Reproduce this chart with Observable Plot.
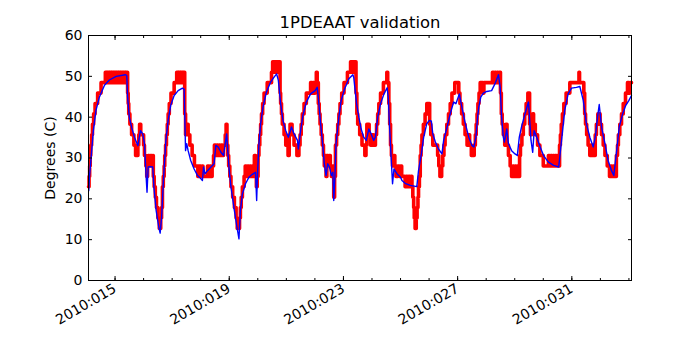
<!DOCTYPE html>
<html>
<head>
<meta charset="utf-8">
<script src="https://cdn.jsdelivr.net/npm/d3@7"></script>
<script src="https://cdn.jsdelivr.net/npm/@observablehq/plot@0.6"></script>
<style>
  html, body { margin: 0; padding: 0; background: white; }
  #chart { width: 700px; height: 350px; }
</style>
</head>
<body>
<div id="chart"></div>
<script>
const chartTitle = "1PDEAAT validation";
const yLabel = "Degrees (C)";
const xTickDays = [15, 19, 23, 27, 31];
const xTickLabels = ["2010:015", "2010:019", "2010:023", "2010:027", "2010:031"];
const xMinorDays = [15, 16, 17, 18, 19, 20, 21, 22, 23, 24, 25, 26, 27, 28, 29, 30, 31, 32, 33];
const yTicks = [0, 10, 20, 30, 40, 50, 60];

// Model (blue) — day of year 2010, degrees C
const blueDay = [14.08,14.10,14.16,14.24,14.33,14.45,14.63,14.80,15.04,15.36,15.41,15.44,15.50,15.58,15.68,15.80,15.89,15.97,16.03,16.09,16.12,16.16,16.23,16.32,16.36,16.44,16.53,16.58,16.63,16.70,16.78,16.86,16.95,17.07,17.21,17.36,17.42,17.47,17.51,17.56,17.65,17.77,17.89,18.01,18.06,18.10,18.15,18.24,18.36,18.47,18.53,18.61,18.71,18.80,18.91,18.94,19.00,19.06,19.18,19.27,19.34,19.39,19.46,19.57,19.69,19.81,19.92,19.96,19.99,20.04,20.10,20.18,20.30,20.45,20.57,20.66,20.72,20.80,20.88,20.98,21.07,21.18,21.27,21.39,21.42,21.50,21.58,21.70,21.85,22.01,22.08,22.12,22.20,22.26,22.33,22.39,22.45,22.51,22.58,22.63,22.66,22.70,22.74,22.84,22.92,23.04,23.19,23.33,23.36,23.46,23.54,23.62,23.71,23.80,23.89,23.97,24.06,24.12,24.20,24.30,24.42,24.53,24.57,24.61,24.67,24.72,24.77,24.88,25.00,25.05,25.16,25.34,25.57,25.63,25.73,25.81,25.92,26.01,26.08,26.13,26.22,26.33,26.45,26.51,26.63,26.74,26.86,26.94,27.06,27.15,27.27,27.39,27.50,27.57,27.64,27.70,27.74,27.81,27.90,28.02,28.19,28.31,28.43,28.49,28.54,28.60,28.64,28.72,28.78,28.89,29.01,29.09,29.16,29.25,29.36,29.48,29.51,29.57,29.63,29.68,29.77,29.89,30.01,30.18,30.36,30.54,30.64,30.75,30.87,30.99,31.16,31.28,31.40,31.51,31.63,31.75,31.83,31.90,31.96,32.04,32.16,32.27,32.39,32.47,32.57,32.66,32.78,32.89,33.00,33.09];
const blueTemp = [22.0,25.0,30.0,36.7,41.6,44.9,47.8,49.1,50.0,50.4,50.2,44.9,40.0,37.5,35.1,33.0,36.7,35.9,33.5,25.3,21.6,27.8,27.9,27.8,22.9,17.1,13.1,11.6,15.5,25.3,34.3,39.2,42.9,45.3,46.5,47.1,46.8,31.8,33.5,31.8,29.4,27.3,25.7,24.9,24.5,27.8,26.1,26.9,27.8,28.6,33.1,32.7,31.4,30.6,35.9,32.7,26.9,22.9,17.1,13.1,10.2,17.1,21.2,23.7,25.3,26.0,26.5,19.6,26.0,33.5,38.4,42.4,46.1,48.6,49.8,50.6,49.0,43.3,39.2,36.7,35.1,37.6,35.9,34.3,32.2,36.7,40.4,43.7,45.7,46.5,47.3,44.9,38.4,34.3,28.6,25.7,28.6,27.8,25.7,26.5,19.6,25.3,33.5,40.0,44.1,46.9,49.4,50.4,49.8,43.3,40.0,37.1,35.1,34.3,37.1,35.9,34.3,35.1,40.0,43.3,45.7,47.2,44.9,38.4,30.2,23.7,27.3,26.1,25.3,24.5,23.8,23.3,23.0,26.9,31.0,35.1,38.4,39.2,39.0,35.9,33.9,32.2,31.0,34.3,37.6,40.8,43.7,43.3,45.7,42.4,38.4,35.1,33.1,32.7,35.1,40.0,42.4,44.9,45.9,46.3,46.5,48.2,50.4,47.3,40.0,35.1,33.9,37.1,33.5,31.8,31.0,30.6,35.1,38.0,40.8,43.7,40.8,34.3,31.4,36.7,35.1,32.7,30.6,29.0,28.2,27.8,34.3,41.6,45.7,47.1,47.3,47.5,44.1,38.4,35.1,32.7,35.5,40.0,43.1,37.6,33.5,29.4,26.9,25.7,31.8,37.6,40.8,42.9,44.1,45.3];

// Telemetry (red) — quantized readings
const redDay = [14.07,14.09,14.11,14.13,14.15,14.18,14.21,14.25,14.30,14.39,14.51,14.66,14.70,14.74,14.78,14.82,14.86,14.90,14.94,14.98,15.02,15.06,15.10,15.14,15.18,15.22,15.26,15.30,15.34,15.38,15.44,15.46,15.48,15.52,15.58,15.66,15.72,15.80,15.83,15.86,15.90,16.00,16.03,16.08,16.11,16.14,16.16,16.20,16.24,16.28,16.32,16.34,16.37,16.41,16.45,16.50,16.55,16.60,16.63,16.66,16.69,16.72,16.74,16.77,16.80,16.83,16.86,16.90,16.96,17.07,17.16,17.20,17.24,17.28,17.32,17.36,17.40,17.44,17.47,17.52,17.56,17.62,17.70,17.78,17.90,17.95,18.00,18.04,18.08,18.24,18.28,18.32,18.36,18.40,18.45,18.48,18.52,18.56,18.60,18.64,18.68,18.72,18.76,18.80,18.86,18.89,18.92,18.95,18.98,19.02,19.06,19.12,19.18,19.24,19.28,19.36,19.39,19.42,19.46,19.52,19.56,19.60,19.64,19.68,19.72,19.76,19.80,19.84,19.88,19.92,19.95,19.98,20.01,20.04,20.07,20.10,20.13,20.17,20.22,20.33,20.48,20.52,20.56,20.60,20.64,20.68,20.72,20.75,20.78,20.80,20.83,20.86,20.92,20.98,21.06,21.10,21.13,21.20,21.27,21.37,21.44,21.48,21.52,21.56,21.62,21.70,21.85,21.89,21.93,21.97,22.01,22.05,22.08,22.12,22.15,22.18,22.22,22.26,22.30,22.33,22.36,22.39,22.42,22.46,22.50,22.54,22.58,22.62,22.66,22.69,22.72,22.76,22.80,22.84,22.88,22.94,23.02,23.14,23.25,23.29,23.33,23.37,23.41,23.44,23.47,23.50,23.57,23.65,23.75,23.79,23.82,23.90,23.95,24.00,24.05,24.12,24.16,24.20,24.24,24.30,24.40,24.52,24.55,24.59,24.62,24.65,24.68,24.72,24.76,24.80,24.84,24.90,24.96,25.00,25.04,25.16,25.20,25.24,25.28,25.32,25.36,25.40,25.43,25.46,25.48,25.51,25.55,25.58,25.61,25.63,25.66,25.69,25.72,25.75,25.80,25.86,25.92,26.02,26.06,26.13,26.22,26.30,26.34,26.38,26.44,26.48,26.52,26.56,26.62,26.68,26.74,26.80,26.90,27.04,27.08,27.14,27.20,27.26,27.33,27.38,27.42,27.48,27.58,27.62,27.65,27.68,27.71,27.75,27.79,27.88,27.92,28.22,28.26,28.30,28.34,28.38,28.42,28.46,28.50,28.53,28.56,28.60,28.65,28.69,28.73,28.78,28.84,28.89,28.93,28.97,29.01,29.05,29.09,29.13,29.17,29.20,29.25,29.30,29.35,29.40,29.46,29.52,29.55,29.60,29.63,29.66,29.72,29.80,29.88,29.92,30.00,30.18,30.22,30.26,30.30,30.34,30.38,30.42,30.46,30.50,30.54,30.57,30.60,30.63,30.67,30.72,30.80,30.93,31.25,31.27,31.42,31.45,31.48,31.52,31.57,31.63,31.66,31.70,31.74,31.78,31.82,31.86,31.91,31.99,32.04,32.10,32.16,32.24,32.32,32.36,32.40,32.44,32.48,32.52,32.56,32.60,32.63,32.68,32.74,32.80,32.88,32.95,33.00,33.04,33.09];
const redTemp = [22.95,25.5,28.05,30.6,33.15,35.7,38.25,40.8,43.35,45.9,48.45,51.0,48.45,51.0,48.45,51.0,48.45,51.0,48.45,51.0,48.45,51.0,48.45,51.0,48.45,51.0,48.45,51.0,48.45,51.0,45.9,43.35,40.8,38.25,35.7,33.15,30.6,33.15,35.7,38.25,35.7,33.15,30.6,28.05,25.5,28.05,30.6,28.05,30.6,28.05,30.6,25.5,22.95,20.4,17.85,15.3,12.75,15.3,17.85,22.95,25.5,28.05,30.6,33.15,35.7,38.25,40.8,43.35,45.9,48.45,51.0,48.45,51.0,48.45,51.0,48.45,51.0,40.8,35.7,38.25,35.7,33.15,30.6,28.05,25.5,28.05,25.5,28.05,25.5,28.05,25.5,28.05,25.5,28.05,30.6,33.15,30.6,33.15,30.6,33.15,30.6,33.15,30.6,33.15,35.7,38.25,33.15,30.6,28.05,25.5,22.95,20.4,17.85,15.3,12.75,15.3,17.85,20.4,22.95,25.5,28.05,25.5,28.05,25.5,28.05,25.5,28.05,25.5,30.6,28.05,22.95,25.5,30.6,33.15,35.7,38.25,40.8,43.35,45.9,48.45,51.0,53.55,51.0,53.55,51.0,53.55,51.0,53.55,45.9,43.35,40.8,38.25,35.7,33.15,30.6,35.7,38.25,35.7,33.15,30.6,33.15,35.7,38.25,40.8,43.35,45.9,48.45,45.9,48.45,45.9,48.45,51.0,48.45,43.35,40.8,38.25,35.7,33.15,30.6,28.05,30.6,25.5,30.6,28.05,30.6,28.05,25.5,28.05,20.4,25.5,33.15,35.7,38.25,40.8,43.35,45.9,48.45,51.0,53.55,51.0,53.55,51.0,53.55,45.9,40.8,38.25,35.7,33.15,30.6,33.15,38.25,35.7,33.15,35.7,33.15,35.7,38.25,40.8,43.35,45.9,48.45,51.0,48.45,43.35,38.25,33.15,30.6,28.05,30.6,28.05,25.5,28.05,25.5,28.05,25.5,22.95,25.5,22.95,25.5,22.95,25.5,22.95,20.4,17.85,15.3,12.75,15.3,17.85,20.4,22.95,25.5,30.6,33.15,35.7,38.25,40.8,43.35,38.25,35.7,33.15,33.15,30.6,28.05,25.5,28.05,30.6,33.15,35.7,38.25,40.8,43.35,45.9,48.45,45.9,43.35,40.8,38.25,35.7,33.15,35.7,33.15,30.6,33.15,35.7,38.25,40.8,43.35,45.9,48.45,45.9,48.45,51.0,48.45,51.0,48.45,51.0,48.45,51.0,45.9,40.8,38.25,35.7,33.15,38.25,33.15,30.6,28.05,25.5,28.05,25.5,28.05,25.5,28.05,25.5,30.6,33.15,35.7,38.25,40.8,43.35,45.9,38.25,35.7,38.25,40.8,38.25,35.7,33.15,30.6,30.6,28.05,30.6,28.05,30.6,28.05,30.6,28.05,30.6,28.05,30.6,28.05,33.15,35.7,38.25,40.8,43.35,45.9,48.45,51.0,48.45,45.9,40.8,38.25,35.7,33.15,30.6,33.15,30.6,33.15,30.6,35.7,38.25,40.8,38.25,35.7,33.15,30.6,28.05,25.5,28.05,25.5,28.05,25.5,25.5,30.6,33.15,35.7,38.25,40.8,43.35,45.9,48.45,45.9,48.45,48.45];

const blue = blueDay.map((d, i) => ({day: d, temp: blueTemp[i]}));
const red = redDay.map((d, i) => ({day: d, temp: redTemp[i]}));
const fmtX = d => xTickLabels[xTickDays.indexOf(d)];
const blank = () => "";

const chart = Plot.plot({
  width: 700,
  height: 350,
  marginLeft: 88,
  marginRight: 69,
  marginTop: 35,
  marginBottom: 70,
  style: {fontFamily: "DejaVu Sans", fontSize: "14px", background: "white", color: "black", overflow: "visible"},
  x: {domain: [14.07, 33.09]},
  y: {domain: [0, 60]},
  marks: [
    Plot.line(red, {x: "day", y: "temp", stroke: "#ff0000", strokeWidth: 3.6, curve: "step-after"}),
    Plot.line(blue, {x: "day", y: "temp", stroke: "#0000ff", strokeWidth: 1.4}),
    Plot.frame({stroke: "black", strokeWidth: 1}),
    Plot.axisX({anchor: "bottom", ticks: xMinorDays, tickSize: -2, tickFormat: blank, label: null}),
    Plot.axisX({anchor: "top", ticks: xMinorDays, tickSize: -2, tickFormat: blank, label: null}),
    Plot.axisX({anchor: "bottom", ticks: xTickDays, tickSize: -4, tickPadding: 11, tickFormat: fmtX, tickRotate: -30, fontSize: 14, label: null}),
    Plot.axisX({anchor: "top", ticks: xTickDays, tickSize: -4, tickFormat: blank, label: null}),
    Plot.axisY({anchor: "left", ticks: yTicks, tickSize: -4, tickPadding: 10, fontSize: 14, label: yLabel, labelAnchor: "center", labelArrow: "none", labelOffset: 43}),
    Plot.axisY({anchor: "right", ticks: yTicks, tickSize: -4, tickFormat: blank, label: null}),
    Plot.text([chartTitle], {frameAnchor: "top", dy: -19, text: d => d, fontSize: 16.4})
  ]
});
document.getElementById("chart").appendChild(chart);
</script>
</body>
</html>
